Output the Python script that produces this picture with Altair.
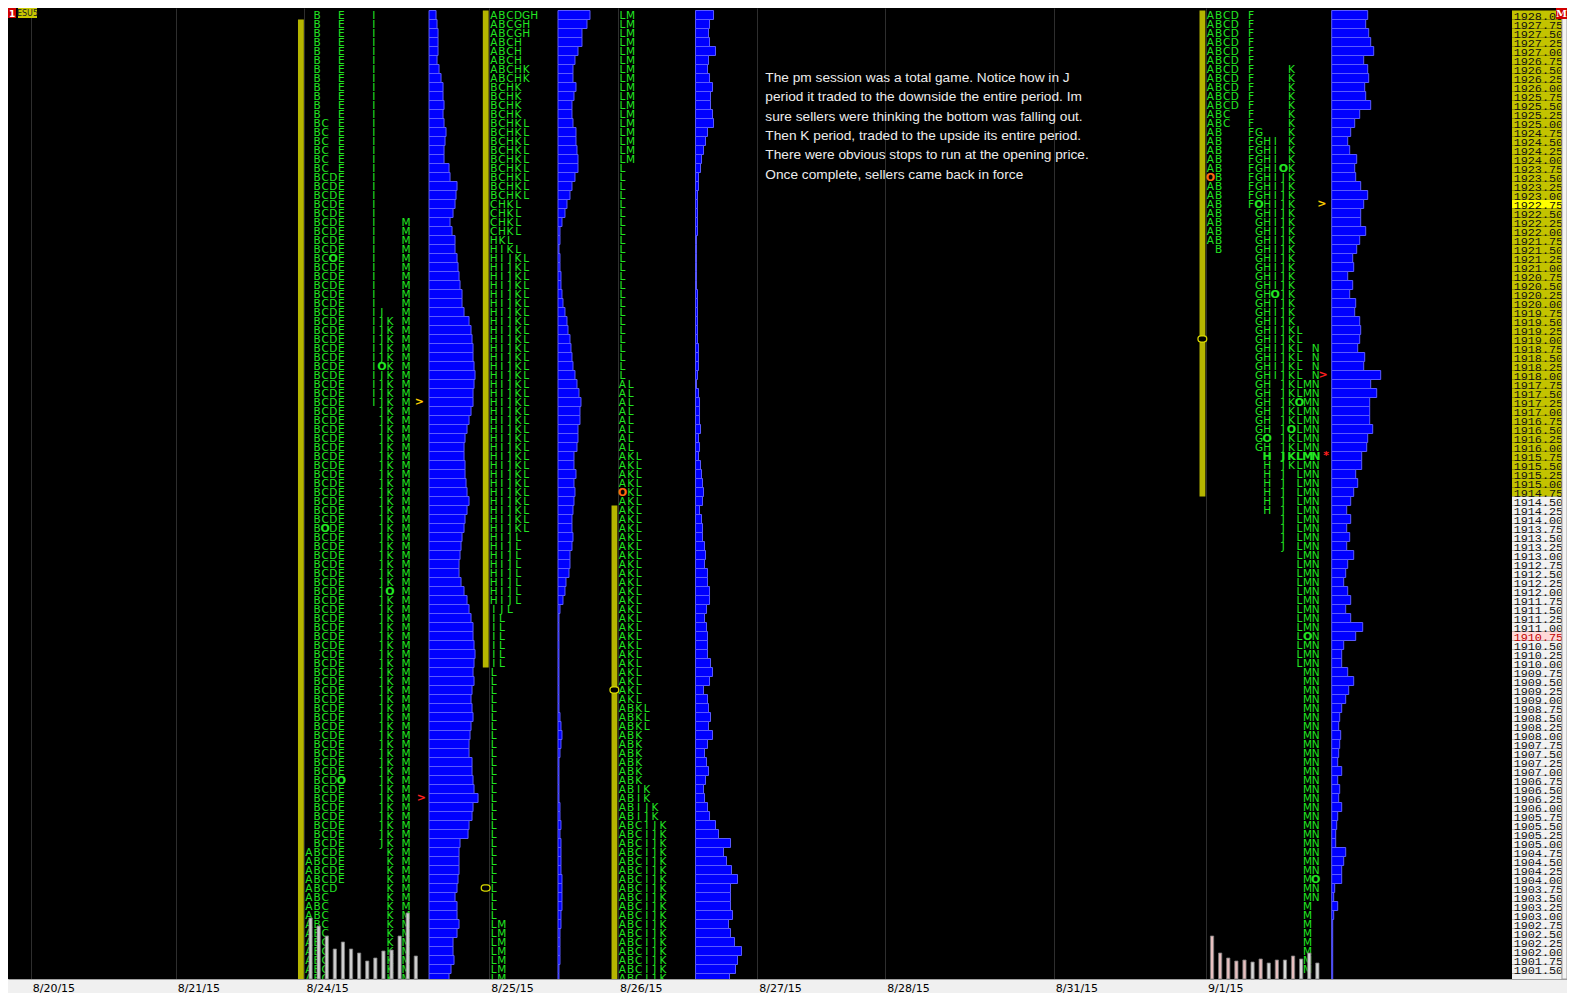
import altair as alt
import pandas as pd

# ---------------- data ----------------
top_price = 1928.00
tick = 0.25
n_axis_rows = 107            # labelled rows 1928.00 .. 1901.50
letters = "ABCDEFGHIJKLMN"

date_labels = ["8/20/15", "8/21/15", "8/24/15", "8/25/15", "8/26/15",
               "8/27/15", "8/28/15", "8/31/15", "9/1/15"]
date_slots = [2.8, 20.7, 36.6, 59.42, 75.31, 92.5, 108.3, 129.1, 147.9]

profile_dates = ["8/24/15", "8/25/15", "8/26/15", "9/1/15"]
profile_start = [36.6, 59.42, 75.31, 147.9]
profile_packed = [False, True, True, False]
profile_vol_gap = [15.38, 8.48, 9.57, 15.52]

# letter -> (first row, last row); row 0 = 1928.00, each row one tick lower
tpo_0824 = {"A": (93, 107), "B": (0, 107), "C": (12, 107), "D": (18, 97), "E": (0, 96),
            "I": (0, 43), "J": (33, 92), "K": (34, 107), "M": (23, 107)}
tpo_0825 = {"A": (0, 7), "B": (0, 20), "C": (0, 24), "D": (0, 0), "G": (0, 2), "H": (0, 65),
            "I": (26, 72), "J": (27, 66), "K": (6, 57), "L": (12, 107), "M": (101, 107)}
tpo_0826 = {"A": (41, 107), "B": (77, 107), "C": (90, 107), "I": (86, 107), "J": (88, 107),
            "K": (49, 107), "L": (0, 79), "M": (0, 16)}
tpo_0901 = {"A": (0, 25), "B": (0, 26), "C": (0, 12), "D": (0, 10), "F": (0, 21),
            "G": (13, 48), "H": (14, 55), "I": (14, 40), "J": (17, 59), "K": (6, 50),
            "L": (35, 72), "M": (41, 106), "N": (37, 98)}

# (session, row, letter replaced, colour)
open_marks = [("8/24/15", 27, "D", "#22e622"), ("8/24/15", 39, "J", "#22e622"),
              ("8/24/15", 57, "C", "#22e622"), ("8/24/15", 64, "K", "#22e622"),
              ("8/24/15", 85, "E", "#22e622"), ("8/26/15", 53, "A", "#ff6a10"),
              ("9/1/15", 17, "J", "#22e622"), ("9/1/15", 18, "A", "#ff6a10"),
              ("9/1/15", 21, "G", "#22e622"), ("9/1/15", 31, "I", "#22e622"),
              ("9/1/15", 43, "L", "#22e622"), ("9/1/15", 46, "K", "#22e622"),
              ("9/1/15", 47, "H", "#22e622"), ("9/1/15", 69, "M", "#22e622"),
              ("9/1/15", 96, "N", "#22e622")]
bold_rows = [("9/1/15", 49)]

# volume at price, rows 0..107
vol_0824 = [7, 8, 9, 9, 9, 8, 10, 12, 14, 14,
            15, 14, 15, 17, 16, 15, 15, 20, 21, 28,
            27, 26, 24, 21, 23, 26, 26, 28, 29, 30,
            31, 33, 33, 35, 40, 42, 43, 44, 44, 45,
            46, 45, 44, 44, 42, 40, 38, 36, 35, 35,
            36, 36, 37, 38, 40, 38, 36, 35, 33, 32,
            31, 30, 30, 32, 35, 38, 40, 42, 44, 44,
            45, 46, 45, 44, 45, 43, 42, 43, 44, 42,
            41, 40, 40, 43, 43, 44, 45, 49, 44, 43,
            40, 39, 31, 30, 30, 30, 29, 28, 26, 28,
            28, 30, 28, 24, 24, 25, 22, 20]
vol_0825 = [32, 29, 24, 24, 20, 17, 15, 15, 18, 16,
            14, 14, 15, 18, 18, 19, 20, 20, 17, 14,
            12, 9, 7, 4, 2, 2, 1, 2, 2, 3,
            3, 4, 5, 7, 9, 10, 12, 13, 14, 15,
            17, 19, 21, 23, 22, 22, 20, 20, 19, 16,
            16, 18, 16, 17, 16, 15, 14, 14, 15, 14,
            12, 12, 11, 8, 7, 5, 2, 1, 1, 1,
            1, 1, 1, 1, 1, 1, 1, 1, 2, 3,
            4, 3, 2, 1, 1, 1, 1, 1, 2, 2,
            3, 2, 3, 3, 3, 3, 4, 4, 4, 4,
            3, 3, 2, 2, 2, 2, 1, 1]
vol_0826 = [18, 14, 13, 14, 20, 13, 12, 14, 17, 15,
            15, 17, 18, 12, 10, 8, 6, 5, 3, 3,
            2, 2, 2, 2, 2, 1, 1, 1, 1, 1,
            1, 2, 2, 2, 2, 2, 2, 3, 3, 3,
            2, 1, 3, 4, 4, 4, 5, 3, 4, 3,
            5, 6, 7, 8, 7, 4, 6, 7, 7, 9,
            10, 9, 12, 12, 14, 14, 11, 9, 11, 12,
            12, 12, 15, 17, 14, 8, 12, 13, 15, 13,
            17, 12, 9, 11, 13, 10, 8, 9, 12, 14,
            20, 23, 35, 28, 31, 36, 42, 35, 35, 35,
            37, 33, 35, 39, 46, 42, 40, 34]
vol_0901 = [36, 34, 37, 39, 42, 32, 36, 37, 33, 34,
            39, 28, 23, 19, 16, 18, 25, 23, 24, 29,
            36, 32, 29, 29, 34, 28, 25, 21, 22, 16,
            21, 18, 24, 23, 28, 29, 28, 26, 33, 32,
            49, 39, 45, 38, 38, 38, 41, 36, 35, 30,
            30, 24, 26, 22, 19, 15, 19, 15, 18, 15,
            22, 16, 14, 12, 16, 19, 14, 19, 31, 24,
            12, 10, 10, 16, 22, 17, 14, 10, 8, 7,
            9, 8, 7, 6, 10, 6, 8, 7, 10, 6,
            5, 4, 4, 14, 12, 10, 10, 3, 2, 6,
            2, 1, 1, 1, 1, 1, 1, 1]
vol_per_slot = 8.1

# range bars (high, low) per profile
range_high = [1927.75, 1928.00, 1914.25, 1928.00]
range_low = [1901.25, 1910.00, 1901.25, 1914.75]
# open/close markers on range bars
bar_mark_dates = ["8/25/15", "8/26/15", "9/1/15"]
bar_mark_prices = [1903.75, 1909.25, 1919.00]

# per-period volume histograms (bottom)
period_vol_0824 = [61, 53, 43, 30, 37, 30, 26, 18, 21, 28, 29, 43, 66, 23]
period_vol_0901 = [43, 26, 21, 18, 19, 17, 20, 16, 19, 19, 23, 20, 26, 16]
period_col_0901 = ["#e8c0c0", "#e8c0c0", "#e8c0c0", "#e8c0c0", "#e8c0c0", "#d8d8d8", "#e8c0c0",
                   "#d8d8d8", "#e8c0c0", "#d8d8d8", "#e8c0c0", "#d8d8d8", "#d8d8d8", "#d8d8d8"]

# arrows: session, price, symbol, colour
arrow_dates = ["8/24/15", "8/24/15", "9/1/15", "9/1/15", "9/1/15"]
arrow_prices = [1917.25, 1906.25, 1922.75, 1918.00, 1915.75]
arrow_syms = [">", ">", ">", ">", "*"]
arrow_cols = ["#ffd000", "#ff2020", "#ffd000", "#ff2020", "#ff2020"]
arrow_dx = [-1.2, -0.95, -1.2, -1.05, -0.7]

price_hi_rows = [21]        # 1922.75 highlighted
price_last_rows = [69]      # 1910.75 last price
value_rows = (0, 53)        # 1928.00 .. 1914.75 shaded

note_lines = ["The pm session was a total game. Notice how in J",
              "period it traded to the downside the entire period. Im",
              "sure sellers were thinking the bottom was falling out.",
              "Then K period, traded to the upside its entire period.",
              "There were obvious stops to run at the opening price.",
              "Once complete, sellers came back in force"]
note_slot = 93.5
note_price = 1926.25

# ---------------- layout constants ----------------
W, H = 1559, 971
X_MAX = W / 8.1
Y_HI = 1928.0 + 7 / 36
Y_LO = Y_HI - H / 36
AXIS_X0, AXIS_X1 = 185.68, 191.85
GREEN = "#22e622"

xs = alt.Scale(domain=[0, X_MAX], nice=False, zero=False)
ys = alt.Scale(domain=[Y_LO, Y_HI], nice=False, zero=False)

label_expr = ("[" + ",".join(f"'{s}'" for s in date_labels) + "][indexof(["
              + ",".join(str(v) for v in date_slots) + "], datum.value)]")
x_axis = alt.Axis(values=date_slots, labelExpr=label_expr, grid=True,
                  gridColor="#2e2e2e", gridWidth=1, domain=True, domainColor="#a0a0a0",
                  ticks=False, labelColor="#000000", labelFont="DejaVu Sans",
                  labelFontSize=11, labelAlign="left", labelBaseline="top", labelPadding=3,
                  labelOffset=1.5, labelFlush=False, labelOverlap=False, title=None)


def X(f):
    return alt.X(f, type="quantitative", scale=xs, axis=x_axis)


def Y(f):
    return alt.Y(f, type="quantitative", scale=ys, axis=None)


# ---------------- tables ----------------
mark_lookup = {(d, r, L): c for d, r, L, c in open_marks}
recs = []
for d, start, packed, tpo in zip(profile_dates, profile_start, profile_packed,
                                 [tpo_0824, tpo_0825, tpo_0826, tpo_0901]):
    rows = {}
    for L, (r0, r1) in tpo.items():
        for r in range(r0, r1 + 1):
            rows.setdefault(r, []).append(L)
    for r, ls in rows.items():
        ls = sorted(ls, key=letters.index)
        for i, L in enumerate(ls):
            col = i if packed else letters.index(L)
            kind, txt, colr = "n", L, GREEN
            if (d, r, L) in mark_lookup:
                kind, txt, colr = "o", "O", mark_lookup[(d, r, L)]
            elif (d, r) in bold_rows:
                kind = "b"
            recs.append(dict(x=start + 0.55 + col, y=top_price - tick * r, t=txt, c=colr, k=kind))
tpo_df = pd.DataFrame(recs)

vrecs = []
for d, start, gap, vols in zip(profile_dates, profile_start, profile_vol_gap,
                               [vol_0824, vol_0825, vol_0826, vol_0901]):
    base = start + gap
    for r, v in enumerate(vols):
        p = top_price - tick * r
        vrecs.append(dict(x=base, x2=base + v / vol_per_slot, y=p - tick / 2, y2=p + tick / 2))
vol_df = pd.DataFrame(vrecs)

rng_df = pd.DataFrame(dict(x=[s - 0.8 for s in profile_start], x2=[s - 0.08 for s in profile_start],
                           y=[l - tick / 2 for l in range_low], y2=[h + tick / 2 for h in range_high]))
bm_x = [profile_start[profile_dates.index(d)] for d in bar_mark_dates]
bm_df = pd.DataFrame(dict(x=[s - 1.0 for s in bm_x], x2=[s + 0.1 for s in bm_x],
                          y=[p - 0.085 for p in bar_mark_prices], y2=[p + 0.085 for p in bar_mark_prices]))

precs = []
for d, vals, cols in [("8/24/15", period_vol_0824, ["#cfcfcf"] * 14),
                      ("9/1/15", period_vol_0901, period_col_0901)]:
    s = profile_start[profile_dates.index(d)]
    for i, (v, c) in enumerate(zip(vals, cols)):
        xc = s + 0.55 + i + 0.2
        precs.append(dict(x=xc - 0.2, x2=xc + 0.2, y=Y_LO, y2=Y_LO + v / 36, c=c))
per_df = pd.DataFrame(precs)

arr_df = pd.DataFrame(dict(
    x=[profile_start[profile_dates.index(d)] + profile_vol_gap[profile_dates.index(d)] + dx
       for d, dx in zip(arrow_dates, arrow_dx)],
    y=arrow_prices, t=arrow_syms, c=arrow_cols))

arecs = []
for r in range(n_axis_rows + 1):
    p = top_price - tick * r
    fill, tc = "#f2f2f2", "#101010"
    if value_rows[0] <= r <= value_rows[1]:
        fill = "#c3c300"
    if r in price_hi_rows:
        fill = "#ffff00"
    if r in price_last_rows:
        fill, tc = "#ffd8d8", "#c00000"
    arecs.append(dict(x=AXIS_X0, x2=AXIS_X1, y=p - tick / 2, y2=p + tick / 2, f=fill, tc=tc,
                      t=f"{p:.2f}" if r < n_axis_rows else "", xt=AXIS_X0 + 0.2, yp=p))
ax_df = pd.DataFrame(arecs)

note_df = pd.DataFrame(dict(x=[note_slot], y=[note_price], t=["\n".join(note_lines)]))
strip_df = pd.DataFrame(dict(x=[AXIS_X1], x2=[X_MAX], y=[Y_LO], y2=[Y_HI]))

# ---------------- layers ----------------
rng_layer = alt.Chart(rng_df).mark_rect(color="#b5b500", clip=True).encode(
    x=X("x"), x2="x2:Q", y=Y("y"), y2="y2:Q")

bm_layer = alt.Chart(bm_df).mark_rect(fill="#000000", stroke="#d8d800", strokeWidth=1.2,
                                      cornerRadius=3).encode(x=X("x"), x2="x2:Q", y=Y("y"), y2="y2:Q")

vol_layer = alt.Chart(vol_df).mark_rect(fill="#0000ff", stroke="#5a5aff", strokeWidth=1,
                                        clip=True).encode(x=X("x"), x2="x2:Q", y=Y("y"), y2="y2:Q")

txt_n = alt.Chart(tpo_df[tpo_df.k == "n"]).mark_text(font="DejaVu Sans", fontSize=10.5, align="center",
                                                      baseline="middle", dy=0.5, clip=True).encode(
    x=X("x"), y=Y("y"), text="t:N", color=alt.Color("c:N", scale=None))
txt_b = alt.Chart(tpo_df[tpo_df.k == "b"]).mark_text(font="DejaVu Sans", fontSize=11, fontWeight="bold",
                                                      align="center", baseline="middle", dy=0.5).encode(
    x=X("x"), y=Y("y"), text="t:N", color=alt.Color("c:N", scale=None))
txt_o = alt.Chart(tpo_df[tpo_df.k == "o"]).mark_text(font="DejaVu Sans", fontSize=11, fontWeight="bold",
                                                      align="center", baseline="middle", dy=0.5).encode(
    x=X("x"), y=Y("y"), text="t:N", color=alt.Color("c:N", scale=None))

per_layer = alt.Chart(per_df).mark_rect(stroke="#7a7a7a", strokeWidth=0.8).encode(
    x=X("x"), x2="x2:Q", y=Y("y"), y2="y2:Q", fill=alt.Fill("c:N", scale=None))

arr_layer = alt.Chart(arr_df).mark_text(font="DejaVu Sans", fontSize=11, fontWeight="bold",
                                        align="center", baseline="middle").encode(
    x=X("x"), y=Y("y"), text="t:N", color=alt.Color("c:N", scale=None))

note_layer = alt.Chart(note_df).mark_text(font="Liberation Sans", fontSize=13.7, color="#ececec",
                                          align="left", baseline="middle", lineBreak="\n",
                                          lineHeight=19.3).encode(x=X("x"), y=Y("y"), text="t:N")

ax_rect = alt.Chart(ax_df).mark_rect(clip=True).encode(
    x=X("x"), x2="x2:Q", y=Y("y"), y2="y2:Q", fill=alt.Fill("f:N", scale=None))
ax_text = alt.Chart(ax_df).mark_text(font="Liberation Mono", fontSize=11.8, align="left",
                                     baseline="middle", dy=0.5, clip=True).encode(
    x=X("xt"), y=Y("yp"), text="t:N", color=alt.Color("tc:N", scale=None))
strip_layer = alt.Chart(strip_df).mark_rect(fill="#f4f4f4", stroke="#a0a0a0", strokeWidth=1).encode(
    x=X("x"), x2="x2:Q", y=Y("y"), y2="y2:Q")

deco_df = pd.DataFrame(dict(k=[0]))
m_box = alt.Chart(deco_df).mark_rect(fill="#d00000").encode(
    x=alt.value(1548), x2=alt.value(1559), y=alt.value(0), y2=alt.value(11))
m_txt = alt.Chart(deco_df).mark_text(text="M", font="DejaVu Serif", fontSize=10, fontWeight="bold",
                                     color="#ffffff").encode(x=alt.value(1553.5), y=alt.value(6))
one_box = alt.Chart(deco_df).mark_rect(fill="#d00000").encode(
    x=alt.value(0), x2=alt.value(8), y=alt.value(0), y2=alt.value(10))
one_txt = alt.Chart(deco_df).mark_text(text="1", font="DejaVu Sans", fontSize=9, fontWeight="bold",
                                       color="#ffffff").encode(x=alt.value(4), y=alt.value(5.5))
esu_box = alt.Chart(deco_df).mark_rect(fill="#c8c800").encode(
    x=alt.value(10), x2=alt.value(29), y=alt.value(0), y2=alt.value(10))
esu_txt = alt.Chart(deco_df).mark_text(text="ESU5", font="DejaVu Sans", fontSize=8,
                                       color="#202020").encode(x=alt.value(19.5), y=alt.value(5.5))

chart = alt.layer(rng_layer, bm_layer, vol_layer, txt_n, txt_b, txt_o, per_layer, arr_layer,
                  note_layer, ax_rect, ax_text, strip_layer, m_box, m_txt, one_box, one_txt,
                  esu_box, esu_txt).properties(
    width=W, height=H,
    autosize=alt.AutoSizeParams(type="none"),
    padding={"left": 0, "top": 0, "right": 0, "bottom": 14},
    background="#f0f0f0",
).configure_view(fill="#000000", strokeWidth=0)

chart.save("out.html", embed_options={"renderer": "svg", "actions": False})
